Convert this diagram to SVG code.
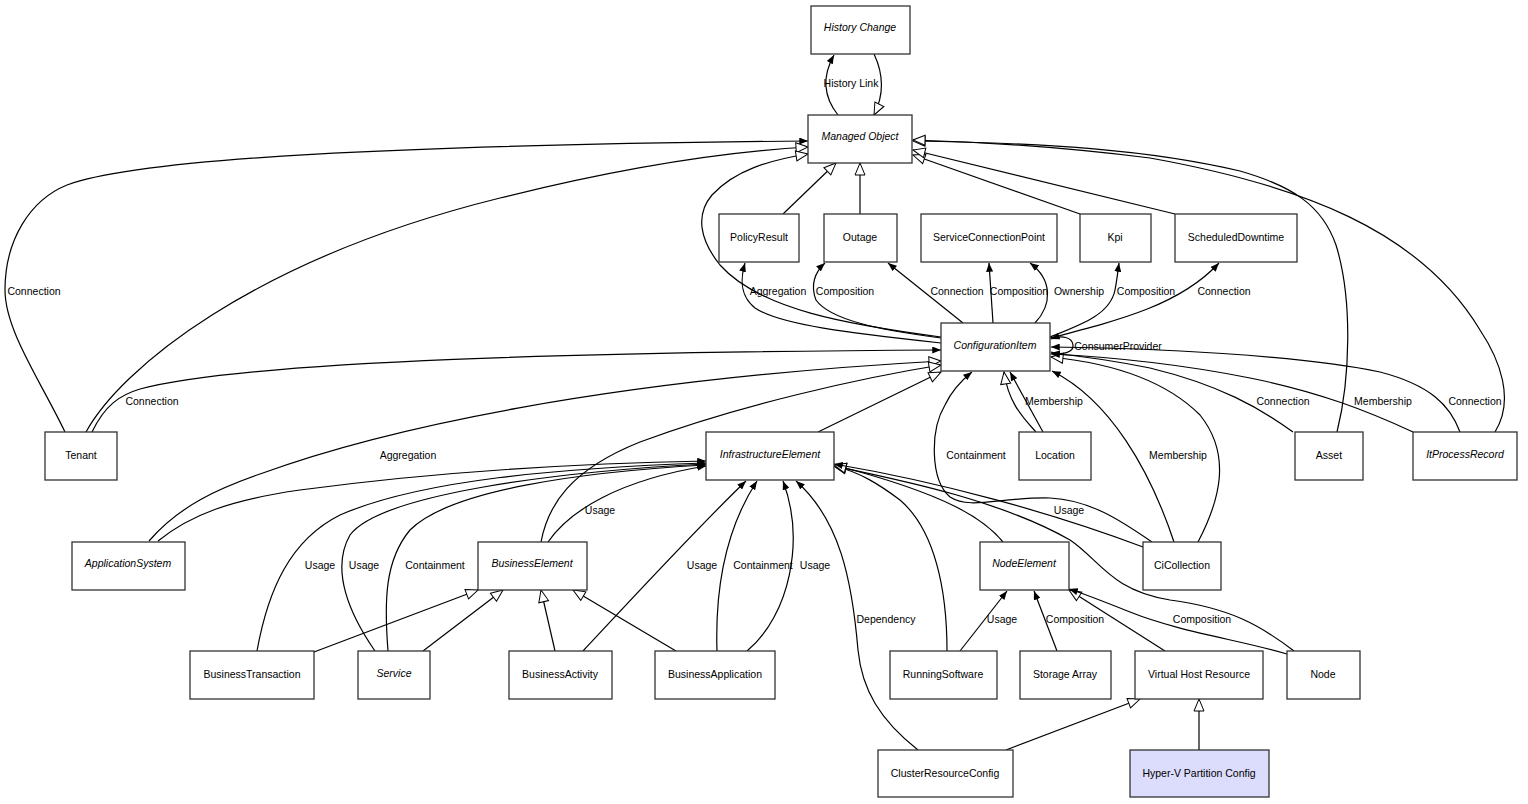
<svg xmlns="http://www.w3.org/2000/svg" width="1528" height="804" viewBox="0 0 1528 804">
<style>
.n rect{fill:#fff;stroke:#333;stroke-width:1.3}
.n text{font-family:"Liberation Sans",Arial,sans-serif;font-size:10.5px;text-anchor:middle;fill:#000}
.n text.i{font-style:italic}
#edges path{fill:none;stroke:#000;stroke-width:1.2}
.a{marker-end:url(#fa)}
.g{marker-end:url(#ga)}
.l text{font-family:"Liberation Sans",Arial,sans-serif;font-size:10.5px;text-anchor:middle;fill:#000}
</style>
<defs>
<marker id="fa" viewBox="0 0 10 8" refX="10" refY="4" markerWidth="9" markerHeight="7" markerUnits="userSpaceOnUse" orient="auto"><path d="M0,0 L10,4 L0,8 z" fill="#000"/></marker>
<marker id="ga" viewBox="-1 -1 14 12" refX="12" refY="5" markerWidth="14" markerHeight="12" markerUnits="userSpaceOnUse" orient="auto"><path d="M0,0 L12,5 L0,10 z" fill="#fff" stroke="#000" stroke-width="1"/></marker>
</defs>
<rect width="1528" height="804" fill="#fff"/>
<g id="edges">
<path class="a" d="M838,115 C826,100 820,80 834,55"/>
<path class="g" d="M874,54 C884,75 884,95 874,115"/>
<path class="a" d="M65,432 C40,380 5,330 5,290 C5,240 30,200 67,185 C140,158 400,145 808,141"/>
<path class="g" d="M86,432 C120,370 250,260 500,198 C620,168 720,152 808,147"/>
<path class="a" d="M92,432 C105,405 120,395 140,389 C250,360 600,352 941,350"/>
<path class="g" d="M149,541 C180,505 220,488 260,474 C380,430 600,380 941,361"/>
<path class="a" d="M158,541 C190,515 230,500 300,490 C450,470 600,463 706,461"/>
<path class="a" d="M257,651 C268,590 290,540 340,515 C420,480 560,468 706,463"/>
<path class="a" d="M375,651 C350,615 330,570 350,535 C380,495 550,472 706,464"/>
<path class="a" d="M388,651 C384,600 385,560 410,530 C450,490 580,472 706,465"/>
<path class="g" d="M541,542 C548,505 570,470 640,442 C740,405 860,378 941,365"/>
<path class="a" d="M548,542 C570,510 620,480 706,466"/>
<path class="g" d="M314,652 L478,590"/>
<path class="g" d="M423,651 L503,590"/>
<path class="g" d="M555,651 L541,590"/>
<path class="a" d="M583,651 C640,590 700,525 746,481"/>
<path class="g" d="M676,651 L573,590"/>
<path class="a" d="M717,651 C715,590 725,530 757,481"/>
<path class="a" d="M747,651 C790,615 805,540 783,481"/>
<path class="a" d="M918,750 C880,720 862,690 858,650 C852,580 840,520 796,481"/>
<path class="g" d="M1006,750 L1140,699"/>
<path class="g" d="M1199,750 L1199,699"/>
<path class="a" d="M960,651 L1007,591"/>
<path class="g" d="M947,651 C947,590 935,530 900,500 C880,485 860,472 834,466"/>
<path class="a" d="M1057,651 L1034,591"/>
<path class="g" d="M1165,651 L1069,590"/>
<path class="a" d="M1287,654 C1240,640 1180,632 1130,612 C1100,600 1085,594 1069,589"/>
<path class="g" d="M1294,651 C1260,625 1230,608 1170,600 C1110,590 1100,560 1070,540 C1000,500 900,480 834,466"/>
<path class="g" d="M1003,542 C985,520 950,495 834,465"/>
<path class="a" d="M1143,547 C1050,512 940,482 834,464"/>
<path class="a" d="M1152,542 C1120,520 1090,500 1050,498 C1000,497 970,510 950,497 C930,480 930,430 945,405 C952,390 962,380 972,372"/>
<path class="a" d="M1174,542 C1150,470 1110,400 1052,371"/>
<path class="g" d="M1198,542 C1220,500 1232,455 1200,415 C1160,375 1100,362 1051,357"/>
<path class="a" d="M1293,432 C1260,408 1220,385 1150,368 C1110,360 1080,356 1051,353"/>
<path class="a" d="M1413,432 C1370,412 1320,392 1250,378 C1180,364 1110,357 1051,354"/>
<path class="a" d="M1460,432 C1450,405 1430,385 1380,372 C1300,355 1150,348 1051,347"/>
<path class="a" d="M1051,352 C1062,356 1074,352 1073,345 C1072,337 1062,335 1051,339"/>
<path class="a" d="M1050,337 C1080,325 1110,315 1115,290 C1117,280 1118,270 1119,263"/>
<path class="a" d="M1050,338 C1120,320 1180,305 1219,263"/>
<path class="a" d="M1035,323 C1052,305 1053,280 1030,263"/>
<path class="a" d="M993,323 L989,263"/>
<path class="a" d="M963,323 L888,263"/>
<path class="a" d="M941,338 C880,330 830,320 816,300 C810,285 815,272 825,263"/>
<path class="a" d="M941,343 C850,333 780,325 755,308 C740,296 740,280 745,263"/>
<path class="g" d="M941,337 C850,325 760,310 720,265 C700,240 695,215 712,195 C735,170 770,160 808,154"/>
<path class="g" d="M783,214 L836,163"/>
<path class="g" d="M860,214 L860,163"/>
<path class="g" d="M1080,214 L913,155"/>
<path class="g" d="M1175,214 L913,150"/>
<path class="g" d="M1337,432 C1350,380 1353,300 1336,245 C1322,205 1292,186 1240,171 C1150,150 1050,143 913,141"/>
<path class="g" d="M1495,432 C1515,400 1500,360 1480,330 C1420,230 1300,185 1150,158 C1070,148 990,142 913,140"/>
<path class="g" d="M1036,432 C1020,415 1008,400 1004,372"/>
<path class="a" d="M1043,432 L1010,372"/>
<path class="g" d="M818,432 L941,372"/>
</g>
<g class="l">
<text x="851" y="87">History Link</text>
<text x="34" y="295">Connection</text>
<text x="152" y="405">Connection</text>
<text x="408" y="459">Aggregation</text>
<text x="778" y="295">Aggregation</text>
<text x="845" y="295">Composition</text>
<text x="957" y="295">Connection</text>
<text x="1019" y="295">Composition</text>
<text x="1079" y="295">Ownership</text>
<text x="1146" y="295">Composition</text>
<text x="1224" y="295">Connection</text>
<text x="1118" y="350">ConsumerProvider</text>
<text x="1054" y="405">Membership</text>
<text x="1283" y="405">Connection</text>
<text x="1383" y="405">Membership</text>
<text x="1475" y="405">Connection</text>
<text x="976" y="459">Containment</text>
<text x="1178" y="459">Membership</text>
<text x="600" y="514">Usage</text>
<text x="1069" y="514">Usage</text>
<text x="320" y="569">Usage</text>
<text x="364" y="569">Usage</text>
<text x="435" y="569">Containment</text>
<text x="702" y="569">Usage</text>
<text x="763" y="569">Containment</text>
<text x="815" y="569">Usage</text>
<text x="886" y="623">Dependency</text>
<text x="1002" y="623">Usage</text>
<text x="1075" y="623">Composition</text>
<text x="1202" y="623">Composition</text>
</g>
<g id="n-historychange" class="n"><rect x="811" y="6" width="99" height="48"/><text class="i" x="860" y="31">History Change</text></g>
<g id="n-managedobject" class="n"><rect x="808" y="115" width="104" height="48"/><text class="i" x="860" y="140">Managed Object</text></g>
<g id="n-policyresult" class="n"><rect x="719" y="214" width="80" height="48"/><text x="759" y="241">PolicyResult</text></g>
<g id="n-outage" class="n"><rect x="824" y="214" width="73" height="48"/><text x="860" y="241">Outage</text></g>
<g id="n-scp" class="n"><rect x="921" y="214" width="136" height="48"/><text x="989" y="241">ServiceConnectionPoint</text></g>
<g id="n-kpi" class="n"><rect x="1080" y="214" width="71" height="48"/><text x="1115" y="241">Kpi</text></g>
<g id="n-scheduleddowntime" class="n"><rect x="1175" y="214" width="122" height="48"/><text x="1236" y="241">ScheduledDowntime</text></g>
<g id="n-configurationitem" class="n"><rect x="941" y="323" width="109" height="48"/><text class="i" x="995" y="349">ConfigurationItem</text></g>
<g id="n-tenant" class="n"><rect x="45" y="432" width="72" height="48"/><text x="81" y="459">Tenant</text></g>
<g id="n-infrastructureelement" class="n"><rect x="706" y="432" width="128" height="48"/><text class="i" x="770" y="458">InfrastructureElement</text></g>
<g id="n-location" class="n"><rect x="1019" y="432" width="72" height="48"/><text x="1055" y="459">Location</text></g>
<g id="n-asset" class="n"><rect x="1295" y="432" width="68" height="48"/><text x="1329" y="459">Asset</text></g>
<g id="n-itprocessrecord" class="n"><rect x="1413" y="432" width="104" height="48"/><text class="i" x="1465" y="458">ItProcessRecord</text></g>
<g id="n-applicationsystem" class="n"><rect x="72" y="542" width="113" height="48"/><text class="i" x="128" y="567">ApplicationSystem</text></g>
<g id="n-businesselement" class="n"><rect x="478" y="542" width="109" height="48"/><text class="i" x="532" y="567">BusinessElement</text></g>
<g id="n-nodeelement" class="n"><rect x="980" y="542" width="89" height="48"/><text class="i" x="1024" y="567">NodeElement</text></g>
<g id="n-cicollection" class="n"><rect x="1143" y="542" width="78" height="48"/><text x="1182" y="569">CiCollection</text></g>
<g id="n-businesstransaction" class="n"><rect x="190" y="651" width="124" height="48"/><text x="252" y="678">BusinessTransaction</text></g>
<g id="n-service" class="n"><rect x="358" y="651" width="72" height="48"/><text class="i" x="394" y="677">Service</text></g>
<g id="n-businessactivity" class="n"><rect x="509" y="651" width="103" height="48"/><text x="560" y="678">BusinessActivity</text></g>
<g id="n-businessapplication" class="n"><rect x="655" y="651" width="120" height="48"/><text x="715" y="678">BusinessApplication</text></g>
<g id="n-runningsoftware" class="n"><rect x="890" y="651" width="107" height="48"/><text x="943" y="678">RunningSoftware</text></g>
<g id="n-storagearray" class="n"><rect x="1020" y="651" width="91" height="48"/><text x="1065" y="678">Storage Array</text></g>
<g id="n-virtualhostresource" class="n"><rect x="1135" y="651" width="128" height="48"/><text x="1199" y="678">Virtual Host Resource</text></g>
<g id="n-node" class="n"><rect x="1287" y="651" width="73" height="48"/><text x="1323" y="678">Node</text></g>
<g id="n-clusterresourceconfig" class="n"><rect x="878" y="750" width="135" height="47"/><text x="945" y="777">ClusterResourceConfig</text></g>
<g id="n-hyperv" class="n"><rect x="1130" y="750" width="139" height="47" style="fill:#dcdcfc"/><text x="1199" y="777">Hyper-V Partition Config</text></g>
</svg>
